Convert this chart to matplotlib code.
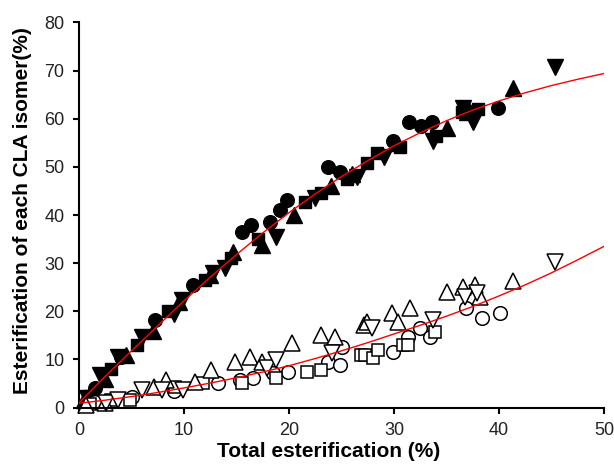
import matplotlib
matplotlib.use("Agg")
import matplotlib.pyplot as plt
import numpy as np

plt.rcParams['font.family'] = ['Liberation Sans', 'DejaVu Sans']

# filled markers (upper group)
fc_x = [1.5, 4.0, 7.2, 10.9, 15.5, 16.4, 18.2, 19.1, 19.8, 23.7, 24.9, 29.9, 31.4, 32.6, 33.6, 36.8, 39.9]
fc_y = [4.0, 10.5, 18.2, 25.5, 36.5, 37.9, 38.6, 41.0, 43.1, 50.0, 49.0, 55.3, 59.4, 58.4, 59.4, 62.0, 62.2]
fs_x = [1.0, 3.0, 5.5, 8.5, 12.0, 14.5, 17.0, 21.5, 23.0, 25.5, 27.4, 28.4, 30.6, 34.0, 36.5, 38.0]
fs_y = [2.5, 8.0, 13.0, 20.0, 26.5, 31.0, 35.0, 42.8, 44.5, 47.5, 50.8, 52.9, 54.2, 56.5, 61.5, 62.0]
fu_x = [0.5, 2.5, 4.5, 7.0, 9.5, 12.5, 14.7, 17.4, 20.5, 24.0, 26.0, 30.2, 35.0, 37.0, 41.3]
fu_y = [1.5, 6.0, 11.0, 16.0, 22.0, 27.5, 32.3, 33.8, 40.0, 46.0, 48.5, 55.0, 58.0, 61.5, 66.4]
fd_x = [0.8, 2.0, 3.7, 6.0, 9.0, 9.8, 12.8, 13.9, 18.8, 22.5, 26.5, 29.0, 33.7, 36.6, 37.5, 45.3]
fd_y = [2.0, 6.8, 10.5, 14.7, 19.5, 22.3, 28.0, 29.0, 35.5, 43.5, 48.0, 52.0, 55.3, 62.3, 59.4, 70.8]

# open markers (lower group)
oc_x = [1.5, 5.0, 9.0, 13.2, 15.3, 16.6, 18.5, 19.9, 23.7, 24.9, 25.0, 29.9, 31.3, 32.5, 33.4, 36.9, 38.4, 40.1]
oc_y = [1.2, 2.2, 3.5, 5.1, 5.7, 6.1, 7.2, 7.4, 9.5, 8.8, 12.6, 11.6, 14.7, 16.5, 14.7, 20.7, 18.6, 19.6]
os_x = [1.0, 3.0, 4.9, 9.1, 11.8, 15.5, 18.8, 21.7, 23.0, 26.9, 27.2, 28.0, 28.5, 30.9, 31.3, 33.9]
os_y = [0.8, 1.5, 1.6, 4.3, 5.1, 5.1, 6.1, 7.4, 7.8, 10.9, 10.9, 10.3, 12.0, 13.0, 13.0, 15.8]
ou_x = [0.7, 2.5, 7.1, 8.3, 11.0, 12.6, 14.9, 16.3, 17.4, 20.3, 23.0, 24.4, 27.1, 27.4, 29.8, 30.4,
        31.5, 35.0, 36.6, 37.7, 38.2, 41.3]
ou_y = [0.5, 1.0, 4.3, 5.7, 5.4, 7.8, 9.5, 10.6, 9.5, 13.4, 15.1, 14.7, 17.2, 17.8, 19.6, 17.8,
        20.7, 24.1, 25.1, 25.5, 23.0, 26.2]
od_x = [2.6, 3.7, 6.0, 7.9, 9.9, 17.9, 18.8, 24.1, 27.9, 33.7, 36.8, 37.9, 45.3]
od_y = [0.9, 1.6, 3.6, 3.6, 3.6, 8.2, 9.9, 11.3, 16.5, 18.2, 23.0, 23.8, 30.3]

# fitted curves
fit_x = [0, 2.5, 5, 7.5, 10, 12.5, 15, 17.5, 20, 22.5, 25, 27.5, 30, 32.5, 35, 37.5, 40, 42.5, 45, 47.5, 50]
fit_hi = [1.0, 6.5, 11.8, 17.0, 22.2, 27.1, 31.8, 36.3, 40.5, 44.4, 48.0, 51.3, 54.4, 57.1, 59.6,
          61.8, 63.7, 65.4, 66.9, 68.2, 69.4]
fit_lo = [0.9, 1.55, 2.3, 3.15, 4.1, 5.1, 6.2, 7.4, 8.7, 10.2, 11.8, 13.5, 15.3, 17.1, 19.0,
          21.0, 23.2, 25.5, 28.0, 30.7, 33.5]

fig = plt.figure(figsize=(6.14, 4.68), dpi=100)
ax = fig.add_axes([0.1287, 0.129, 0.855, 0.823])

ms = 9.8
for xs, ys, m, s in [(fc_x, fc_y, 'o', ms), (fs_x, fs_y, 's', ms - 0.6),
                     (fu_x, fu_y, '^', ms + 1.4), (fd_x, fd_y, 'v', ms + 1.4)]:
    ax.plot(xs, ys, ls='none', marker=m, ms=s, mfc='black', mec='black', clip_on=False)

for xs, ys, m, s in [(oc_x, oc_y, 'o', ms), (os_x, os_y, 's', ms - 0.6),
                     (ou_x, ou_y, '^', ms + 1.4), (od_x, od_y, 'v', ms + 1.4)]:
    ax.plot(xs, ys, ls='none', marker=m, ms=s, mfc='white', mec='black', mew=1.1, clip_on=False)

ax.plot(fit_x, fit_hi, color='red', lw=1.0, zorder=5)
ax.plot(fit_x, fit_lo, color='red', lw=1.0, zorder=5)

ax.set_xlim(0, 50)
ax.set_ylim(0, 80)
ax.set_xticks([0, 10, 20, 30, 40, 50])
ax.set_yticks([0, 10, 20, 30, 40, 50, 60, 70, 80])
ax.spines['top'].set_visible(False)
ax.spines['right'].set_visible(False)
ax.spines['left'].set_linewidth(1.5)
ax.spines['bottom'].set_linewidth(1.5)
ax.tick_params(direction='out', length=4.5, width=1.5, pad=6, labelsize=13, labelcolor='#222222')
ax.set_xlabel('Total esterification (%)', fontsize=15, fontweight='bold')
ax.set_ylabel('Esterification of each CLA isomer(%)', fontsize=15, fontweight='bold')
ax.xaxis.set_label_coords(0.476, -0.088)
ax.yaxis.set_label_coords(-0.1076, 0.512)
ax.yaxis.label.set_va('center')

fig.savefig('out.png', dpi=100)
